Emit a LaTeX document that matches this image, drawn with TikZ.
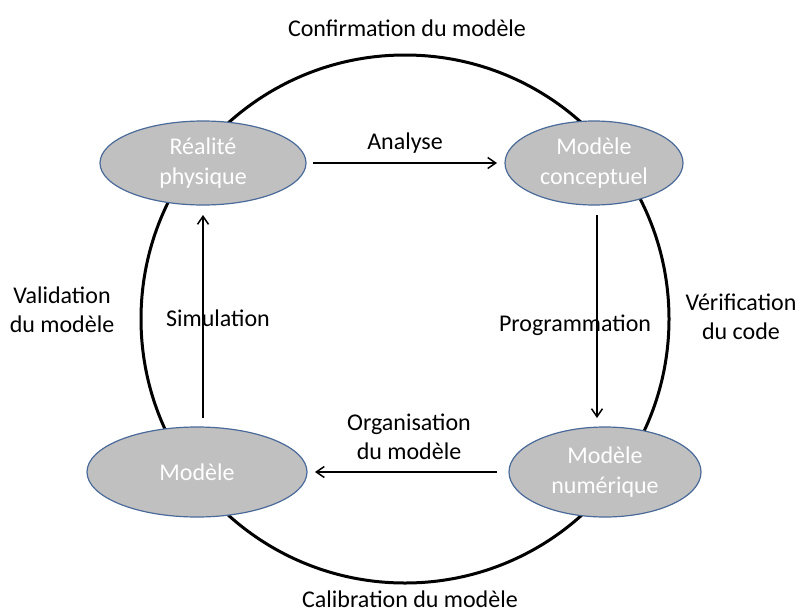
\documentclass[tikz,border=0pt]{standalone}
\usepackage{fontspec}
\setmainfont{Carlito}
\usetikzlibrary{shapes.geometric,arrows.meta}
\definecolor{ellfill}{HTML}{C0C0C0}
\definecolor{ellborder}{HTML}{4A6A9A}
\tikzset{
  ell/.style={ellipse, draw=ellborder, line width=1.2pt, fill=ellfill, text=white, inner sep=0pt, align=center, font=\fontsize{24}{30}\selectfont},
  conn/.style={line width=1.5pt, -{Straight Barb[length=8pt,width=11pt,line width=1.5pt]}},
  lbl/.style={align=center, font=\fontsize{24}{29}\selectfont, inner sep=0pt}
}
\begin{document}
\begin{tikzpicture}[x=1pt,y=-1pt]
\useasboundingbox (0,0) rectangle (800,613);
\node[draw, circle, line width=3pt, minimum size=528pt, inner sep=0pt] (ring) at (405,319) {};
\node[ell, minimum width=206pt, minimum height=84pt] (rp) at (203,163) {Réalité\\physique};
\node[ell, minimum width=178pt, minimum height=84pt] (mc) at (594,163) {Modèle\\conceptuel};
\node[ell, minimum width=220pt, minimum height=90pt] (mo) at (197,472) {Modèle};
\node[ell, minimum width=192pt, minimum height=90pt] (mn) at (605,472) {Modèle\\numérique};
\coordinate (a1) at (313,163); \coordinate (a2) at (497,163);
\coordinate (p1) at (597,215); \coordinate (p2) at (597,418);
\coordinate (o1) at (497,472); \coordinate (o2) at (315,472);
\coordinate (s1) at (203,418); \coordinate (s2) at (203,215);
\draw[conn] (a1) -- (a2);
\draw[conn] (p1) -- (p2);
\draw[conn] (o1) -- (o2);
\draw[conn] (s1) -- (s2);
\node[lbl] (la) at (405,143) {Analyse};
\node[lbl] (lp) at (575,325) {Programmation};
\node[lbl] (lo) at (409,437) {Organisation\\du modèle};
\node[lbl] (ls) at (218,318) {Simulation};
\node[lbl] (tc) at (407,28) {Confirmation du modèle};
\node[lbl] (tv) at (62,310) {Validation\\du modèle};
\node[lbl] (tr) at (741,317) {Vérification\\du code};
\node[lbl] (tb) at (410,599) {Calibration du modèle};
\end{tikzpicture}
\end{document}
